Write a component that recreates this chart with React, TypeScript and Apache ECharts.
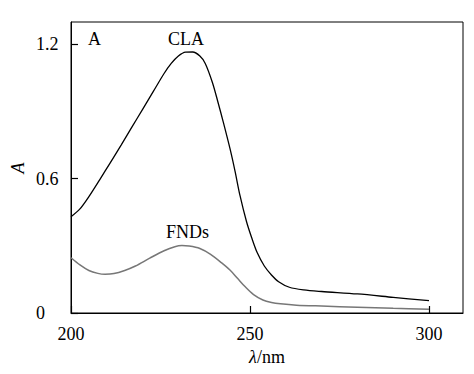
import React, { useEffect, useRef } from "react";
import * as echarts from "echarts";

const claWavelength = [200, 202.5, 205, 208, 211, 214, 217, 220, 223, 226, 228, 230, 232, 234, 236, 237.5, 239.5, 241, 242.5, 244.4, 245.8, 247.2, 249, 250.5, 252, 254, 256, 258, 261, 265, 270, 280, 290, 300];
const claAbs = [0.43, 0.465, 0.52, 0.595, 0.672, 0.75, 0.83, 0.91, 0.99, 1.07, 1.115, 1.148, 1.165, 1.166, 1.148, 1.115, 1.03, 0.945, 0.855, 0.735, 0.635, 0.525, 0.41, 0.335, 0.27, 0.21, 0.17, 0.14, 0.115, 0.103, 0.096, 0.085, 0.07, 0.055];

const fndWavelength = [200, 202.5, 205, 207.5, 209.5, 212, 215, 218, 222, 226, 229, 231, 233, 236, 239, 242, 244.4, 246.5, 248.6, 251, 253.6, 256, 258.5, 263, 270, 280, 290, 300];
const fndAbs = [0.247, 0.215, 0.19, 0.177, 0.173, 0.176, 0.19, 0.21, 0.245, 0.278, 0.296, 0.301, 0.299, 0.288, 0.262, 0.225, 0.192, 0.155, 0.118, 0.082, 0.058, 0.047, 0.041, 0.035, 0.031, 0.026, 0.021, 0.0165];

const xTicks = [200, 250, 300];
const yTicks = [0, 0.6, 1.2];
const xMin = 200;
const xMax = 309.5;
const yMin = 0;
const yMax = 1.3;

const FONT = "Liberation Serif, Times New Roman, serif";

export default function App() {
  const ref = useRef<HTMLDivElement>(null);
  useEffect(() => {
    if (!ref.current) return;
    const chart = echarts.init(ref.current, undefined, { renderer: "svg" });
    chart.setOption({
      animation: false,
      backgroundColor: "#fff",
      textStyle: { fontFamily: FONT },
      grid: {
        left: 71, top: 22, right: 11, bottom: 61,
        show: true, borderColor: "#000", borderWidth: 1,
        containLabel: false, outerBoundsMode: "none",
      },
      xAxis: {
        type: "value",
        min: xMin,
        max: xMax,
        interval: 50,
        axisLine: { show: true, lineStyle: { color: "#000", width: 1 } },
        axisTick: { show: true, inside: true, length: 7, lineStyle: { color: "#000", width: 1.2 } },
        axisLabel: {
          color: "#000", fontSize: 18, fontFamily: FONT, margin: 12,
          showMaxLabel: false,
          formatter: (v: number) => (xTicks.includes(v) ? String(v) : ""),
        },
        splitLine: { show: false },
        name: "{i|λ}/nm",
        nameLocation: "middle",
        nameGap: 34,
        nameTextStyle: {
          color: "#000",
          fontSize: 18,
          fontFamily: FONT,
          rich: { i: { fontStyle: "italic", fontSize: 18, fontFamily: FONT, color: "#000" } },
        },
      },
      yAxis: {
        type: "value",
        min: yMin,
        max: yMax,
        interval: 0.6,
        axisLine: { show: true, lineStyle: { color: "#000", width: 1 } },
        axisTick: { show: true, inside: true, length: 7, lineStyle: { color: "#000", width: 1.2 } },
        axisLabel: {
          color: "#000", fontSize: 18, fontFamily: FONT, margin: 35, align: "left",
          showMaxLabel: false,
          formatter: (v: number) => (yTicks.some((t) => Math.abs(t - v) < 1e-9) ? String(v) : ""),
        },
        splitLine: { show: false },
      },
      graphic: [
        {
          type: "text", x: 18, y: 168, rotation: Math.PI / 2,
          style: { text: "A", fontSize: 18, fontFamily: FONT, fontStyle: "italic", fill: "#000", align: "center", verticalAlign: "middle" },
        },
        { type: "text", left: 88, top: 30, style: { text: "A", fontSize: 18, fontFamily: FONT, fill: "#000" } },
        { type: "text", left: 168, top: 30, style: { text: "CLA", fontSize: 18, fontFamily: FONT, fill: "#000" } },
        { type: "text", left: 166, top: 223, style: { text: "FNDs", fontSize: 18, fontFamily: FONT, fill: "#000" } },
      ],
      series: [
        {
          type: "line",
          name: "CLA",
          data: claWavelength.map((w, i) => [w, claAbs[i]]),
          showSymbol: false,
          smooth: 0.3,
          lineStyle: { color: "#000", width: 1.3 },
        },
        {
          type: "line",
          name: "FNDs",
          data: fndWavelength.map((w, i) => [w, fndAbs[i]]),
          showSymbol: false,
          smooth: 0.3,
          lineStyle: { color: "#777", width: 1.5 },
        },
      ],
    });
    return () => chart.dispose();
  }, []);
  return <div ref={ref} style={{ position: "fixed", left: 0, top: 0, width: 474, height: 374 }} />;
}
